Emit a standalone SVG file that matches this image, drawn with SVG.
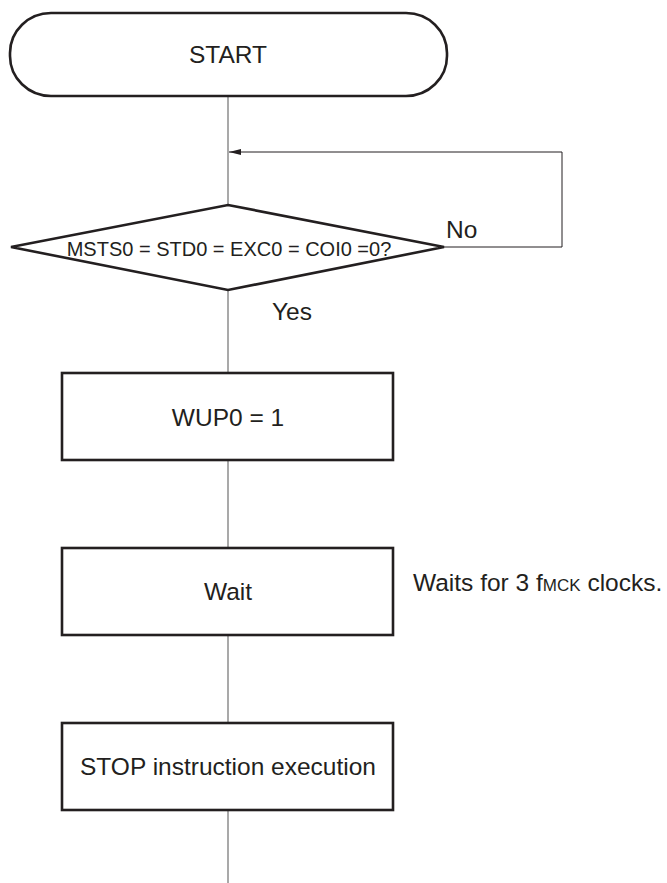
<svg xmlns="http://www.w3.org/2000/svg" width="667" height="883" viewBox="0 0 667 883">
<style>
.shape{fill:#ffffff;stroke:#231f20;stroke-width:2.6}
.t{font-family:"Liberation Sans",Arial,sans-serif;font-size:24.5px;fill:#231f20}
.c{text-anchor:middle}
.flow{fill:none;stroke:#8c8c8c;stroke-width:1.5}
.fb{fill:none;stroke:#231f20;stroke-width:1}
</style>
<defs>
<marker id="ah" markerWidth="13" markerHeight="6" refX="12" refY="3" orient="auto" markerUnits="userSpaceOnUse">
<path d="M0,0 L12,3 L0,6 Z" fill="#231f20"/>
</marker>
</defs>
<rect width="667" height="883" fill="#ffffff"/>
<g id="connectors">
<line class="flow" x1="228" y1="96" x2="228" y2="205"/>
<line class="flow" x1="228" y1="290" x2="228" y2="373"/>
<line class="flow" x1="228" y1="460" x2="228" y2="548"/>
<line class="flow" x1="228" y1="635" x2="228" y2="723"/>
<line class="flow" x1="228" y1="810" x2="228" y2="883"/>
<polyline class="fb" points="444,247 562,247 562,152 229,152" marker-end="url(#ah)"/>
<text class="t" x="446" y="238">No</text>
<text class="t" x="272" y="320">Yes</text>
</g>
<g id="start">
<rect class="shape" x="10" y="13" width="437" height="83" rx="41" ry="40"/>
<text class="t c" x="228" y="63">START</text>
</g>
<g id="decision">
<polygon class="shape" points="228,205 444,247 228,290 11,247"/>
<text class="t c" x="229" y="256" style="font-size:20px">MSTS0 = STD0 = EXC0 = COI0 =0?</text>
</g>
<g id="wup0">
<rect class="shape" x="62" y="373" width="331" height="87"/>
<text class="t c" x="228" y="426">WUP0 = 1</text>
</g>
<g id="wait">
<rect class="shape" x="62" y="548" width="331" height="87"/>
<text class="t c" x="228" y="600">Wait</text>
<text class="t" x="413" y="591">Waits for 3 f<tspan style="font-size:17px">MCK</tspan> clocks.</text>
</g>
<g id="stop">
<rect class="shape" x="62" y="723" width="331" height="87"/>
<text class="t c" x="228" y="775">STOP instruction execution</text>
</g>
</svg>
